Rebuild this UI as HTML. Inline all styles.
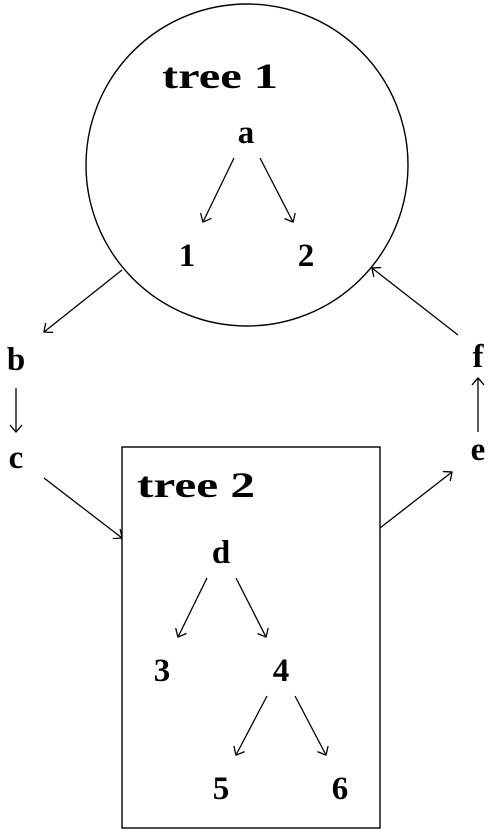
<!DOCTYPE html>
<html><head><meta charset="utf-8"><style>
html,body{margin:0;padding:0;background:#fff;}
svg text{font-family:"Liberation Serif",serif;font-weight:bold;font-size:33px;fill:#000;}
</style></head><body>
<svg width="492" height="833" viewBox="0 0 492 833" xmlns="http://www.w3.org/2000/svg">
<defs>
<marker id="ar" markerWidth="14" markerHeight="14" refX="0" refY="0" viewBox="-8 -7 10 14" orient="auto" markerUnits="userSpaceOnUse">
<path d="M -7 -6 Q -1.5 -1.5 0 0 Q -1.5 1.5 -7 6" fill="none" stroke="#000" stroke-width="1.3"/>
</marker>
</defs>
<g fill="none" stroke="#000" stroke-width="1.4">
<circle cx="247" cy="165" r="161"/>
<rect x="122" y="447" width="258" height="381"/>
</g>
<g stroke="#000" stroke-width="1.3" marker-end="url(#ar)">
<line x1="234" y1="158" x2="203" y2="222"/>
<line x1="260" y1="158" x2="293" y2="222"/>
<line x1="122" y1="270" x2="44" y2="332"/>
<line x1="16" y1="388" x2="16" y2="432"/>
<line x1="44" y1="478" x2="122" y2="538"/>
<line x1="380" y1="528" x2="452" y2="472"/>
<line x1="478" y1="432" x2="478" y2="378"/>
<line x1="458" y1="335" x2="372" y2="268"/>
<line x1="207" y1="578" x2="178" y2="637"/>
<line x1="236" y1="578" x2="266" y2="637"/>
<line x1="267" y1="696" x2="236" y2="755"/>
<line x1="295" y1="696" x2="326" y2="755"/>
</g>
<text x="162" y="88" style="font-size:36px" textLength="116" lengthAdjust="spacingAndGlyphs">tree 1</text>
<text x="137" y="497" style="font-size:36px" textLength="118" lengthAdjust="spacingAndGlyphs">tree 2</text>
<g text-anchor="middle">
<text x="246" y="143">a</text>
<text x="187" y="266">1</text>
<text x="306" y="266">2</text>
<text x="16" y="370">b</text>
<text x="16" y="468">c</text>
<text x="478" y="367">f</text>
<text x="478" y="460">e</text>
<text x="221" y="563">d</text>
<text x="162" y="681">3</text>
<text x="281" y="681">4</text>
<text x="221" y="799">5</text>
<text x="340" y="799">6</text>
</g>
</svg>
</body></html>
